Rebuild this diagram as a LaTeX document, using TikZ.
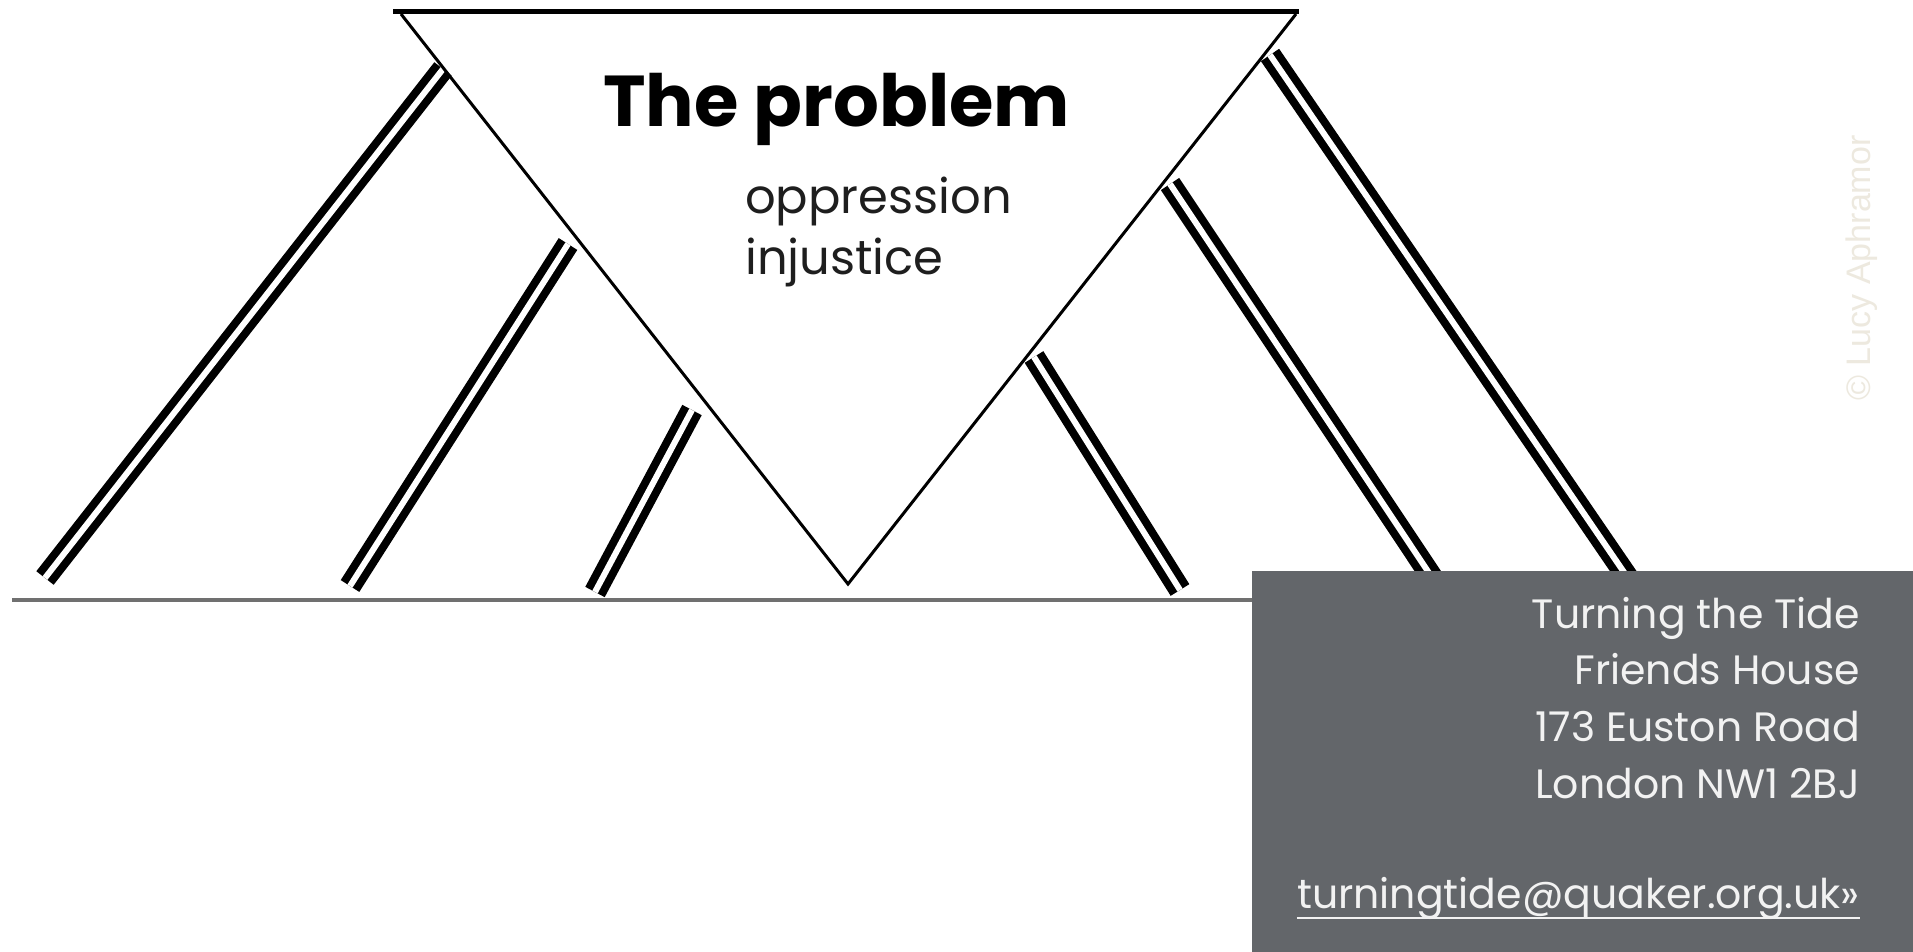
\documentclass[tikz,border=0pt]{standalone}
\usepackage{fontspec}
\setmainfont{Poppins}
\newfontfamily\wmfont{Liberation Sans}
\definecolor{boxgray}{HTML}{63666A}
\definecolor{basegray}{HTML}{707070}
\definecolor{wmcolor}{HTML}{EDE9DF}
\definecolor{addr}{HTML}{F2F2F2}
\definecolor{textdark}{HTML}{1E1E1E}
\begin{document}
\begin{tikzpicture}[x=1pt,y=-1pt,
  pairline/.style={draw=black, line width=8pt, double=white, double distance=6pt, line cap=butt},
  edge/.style={draw=black, line width=3pt, line join=miter},
  topbar/.style={draw=black, line width=5pt},
  ground/.style={draw=basegray, line width=4pt},
  addrtext/.style={text=addr, anchor=base east, inner sep=0pt, font=\fontsize{41}{41}\selectfont}
]
\useasboundingbox (0,0) rectangle (1913,952);
\fill[white] (0,0) rectangle (1913,952);

% coordinates
\coordinate (TL) at (401,14);
\coordinate (AP) at (848,584);
\coordinate (TR) at (1296,14);
\coordinate (BL) at (393,12);
\coordinate (BR) at (1299,12);
\coordinate (G0) at (12,600);
\coordinate (G1) at (1256,600);

\coordinate (l1a) at (443,69);  \coordinate (l1b) at (45,578);
\coordinate (l2a) at (568,244); \coordinate (l2b) at (350,586);
\coordinate (l3a) at (692,410); \coordinate (l3b) at (595,592);
\coordinate (r1a) at (1034,357); \coordinate (r1b) at (1180,590);
\coordinate (r2a) at (1170,184); \coordinate (r2b) at (1447,600);
\coordinate (r3a) at (1270,55);  \coordinate (r3b) at (1643,600);

% double lines
\draw[pairline] (l1a) -- (l1b);
\draw[pairline] (l2a) -- (l2b);
\draw[pairline] (l3a) -- (l3b);
\draw[pairline] (r1a) -- (r1b);
\draw[pairline] (r2a) -- (r2b);
\draw[pairline] (r3a) -- (r3b);

% ground line
\draw[ground] (G0) -- (G1);

% inverted triangle and top bar
\draw[edge] (TL) -- (AP) -- (TR);
\draw[topbar] (BL) -- (BR);

% titles
\node[anchor=base west, inner sep=0pt, text=black, font=\bfseries\fontsize{72}{72}\selectfont] (title) at (603,127) {The problem};
\node[anchor=base west, inner sep=0pt, text=textdark, font=\fontsize{48}{48}\selectfont] (opp) at (745,213) {oppression};
\node[anchor=base west, inner sep=0pt, text=textdark, font=\fontsize{48}{48}\selectfont] (inj) at (745,274) {injustice};

% address box
\fill[boxgray] (1252,571) rectangle (1913,952);
\node[addrtext] (a1) at (1860,628) {Turning the Tide};
\node[addrtext] (a2) at (1860,684) {Friends House};
\node[addrtext] (a3) at (1860,741) {173 Euston Road};
\node[addrtext] (a4) at (1860,798) {London NW1 2BJ};
\node[addrtext] (em) at (1860,908) {turningtide@quaker.org.uk»};
\draw[addr, line width=2pt] ([yshift=-10pt]em.base west) -- ([yshift=-10pt]em.base east);

% watermark
\node[rotate=90, text=wmcolor, inner sep=0pt, font=\wmfont\fontsize{34}{34}\selectfont] (wm) at (1862,268) {© Lucy Aphramor};
\end{tikzpicture}
\end{document}
